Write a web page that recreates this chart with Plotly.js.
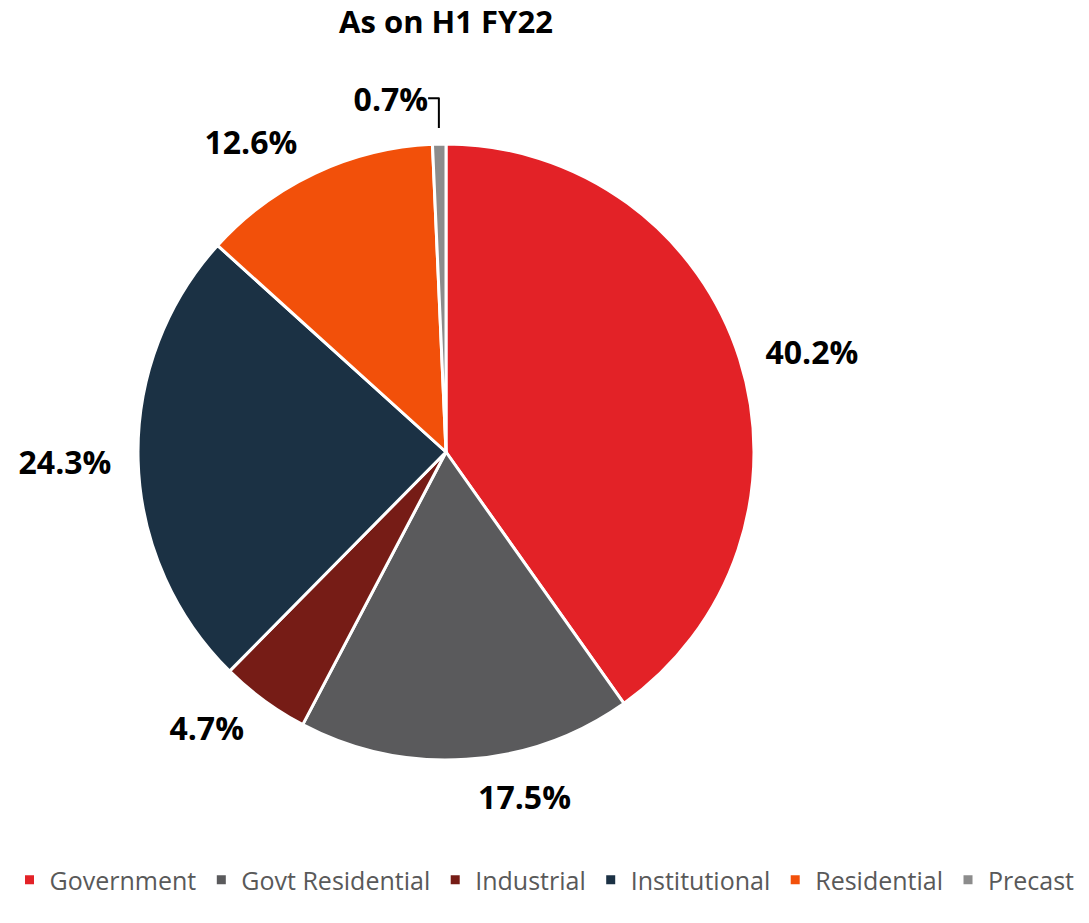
<!DOCTYPE html>
<html>
<head>
<meta charset="utf-8">
<script src="https://cdn.plot.ly/plotly-3.0.1.min.js"></script>
<style>html,body{margin:0;padding:0;background:#fff;}#chart{width:1089px;height:923px;}</style>
</head>
<body>
<div id="chart"></div>
<script>
const categories = ["Government", "Govt Residential", "Industrial", "Institutional", "Residential", "Precast"];
const shares = [40.2, 17.5, 4.7, 24.3, 12.6, 0.7];
const labelsText = ["40.2%", "17.5%", "4.7%", "24.3%", "12.6%", "0.7%"];
const sliceColors = ["#E32227", "#5A5A5C", "#761C16", "#1B3144", "#F2500A", "#8C8C8C"];
const chartTitle = "As on H1 FY22";

const W = 1089, H = 923;
const cx = 446, cy = 452, r = 308;   // visible pie
const rl = 324;                      // radius used to place the outside labels
const FONT = "Open Sans, Noto Sans, sans-serif";

function dom(rad) {
  return {x: [(cx - rad) / W, (cx + rad) / W], y: [1 - (cy + rad) / H, 1 - (cy - rad) / H]};
}

const pieTrace = {
  type: "pie",
  labels: categories,
  values: shares,
  textinfo: "none",
  sort: false,
  direction: "clockwise",
  rotation: 0,
  marker: {colors: sliceColors, line: {color: "#ffffff", width: 3}},
  domain: dom(r),
  hoverinfo: "label+percent"
};

// transparent copy of the same pie, slightly larger, used only to carry the data labels
const labelTrace = {
  type: "pie",
  labels: categories,
  values: shares,
  text: labelsText,
  textinfo: "text",
  textposition: "outside",
  sort: false,
  direction: "clockwise",
  rotation: 0,
  showlegend: false,
  marker: {colors: categories.map(() => "rgba(0,0,0,0)"), line: {width: 0}},
  outsidetextfont: {family: FONT, size: 32, color: "#000000", weight: "bold"},
  domain: dom(rl),
  hoverinfo: "skip"
};

const layout = {
  width: W, height: H,
  margin: {l: 0, r: 0, t: 0, b: 0},
  paper_bgcolor: "#ffffff",
  title: {text: "<b>" + chartTitle + "</b>", font: {family: FONT, size: 31, color: "#000000"},
          x: cx / W, xanchor: "center", y: 1 - 22 / H, yanchor: "middle"},
  showlegend: true,
  legend: {orientation: "h", x: 0.5, xanchor: "center", y: 1 - 880 / H, yanchor: "middle",
           font: {family: FONT, size: 25, color: "#595959"},
           traceorder: "normal"}
};

Plotly.newPlot("chart", [pieTrace, labelTrace], layout, {displayModeBar: false, staticPlot: true});
</script>
</body>
</html>
